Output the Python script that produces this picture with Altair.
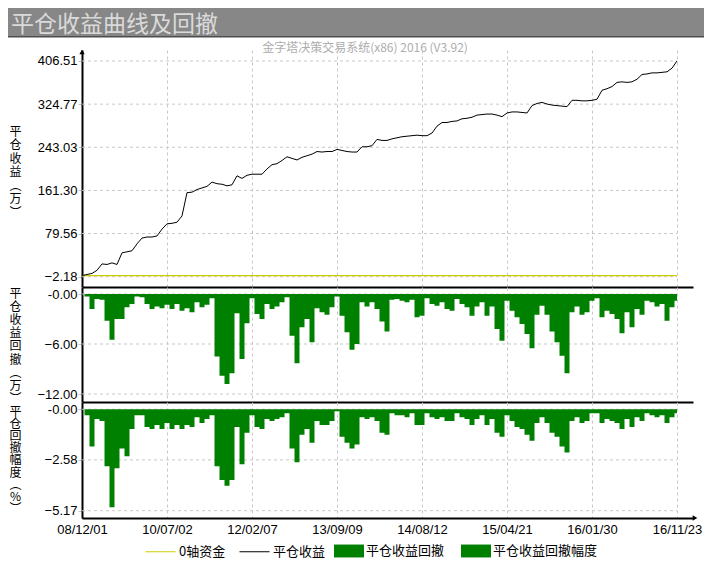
import altair as alt
import pandas as pd

TITLE = "平仓收益曲线及回撤"
SUBTITLE = "金字塔决策交易系统(x86) 2016 (V3.92)"
X_LABELS = ["08/12/01", "10/07/02", "12/02/07", "13/09/09",
            "14/08/12", "15/04/21", "16/01/30", "16/11/23"]
LABEL_STEP = 17  # trade-index distance between date labels

EQUITY = [0, 2, 4, 10, 22, 21, 24, 21, 43, 45,
          47, 60, 71, 73, 73, 75, 88, 98, 99, 101,
          113, 157, 158, 163, 166, 169, 177, 174, 173, 170,
          172, 189, 184, 190, 192, 192, 192, 202, 210, 212,
          218, 225, 222, 219, 224, 227, 230, 235, 234, 235,
          235, 239, 237, 235, 234, 234, 244, 244, 246, 258,
          256, 256, 259, 261, 263, 264, 265, 266, 265, 265,
          270, 283, 290, 290, 292, 293, 297, 298, 300, 304,
          305, 306, 306, 304, 301, 308, 310, 310, 309, 308,
          322, 326, 328, 325, 323, 322, 321, 320, 332, 332,
          331, 331, 332, 334, 351, 354, 358, 366, 367, 366,
          367, 372, 381, 382, 384, 384, 385, 386, 393, 406.51]

DRAWDOWN = [0, -0.3, -1.8, -0.6, -0.7, -3.2, -5.5, -3.0, -3.0, -1.6,
            -1.2, -0.3, -0.4, -1.2, -1.8, -1.5, -1.7, -1.3, -1.8, -1.2,
            -2.0, -1.7, -2.2, -1.0, -1.6, -1.3, -0.5, -7.5, -9.8, -10.8,
            -9.5, -2.3, -7.8, -3.5, -0.5, -2.4, -3.0, -1.2, -1.8, -1.5,
            -1.0, -0.4, -5.0, -8.3, -4.0, -3.0, -5.8, -1.7, -2.2, -2.5,
            -1.6, -0.3, -2.6, -4.6, -6.7, -6.0, -1.0, -1.5, -1.0, -1.8,
            -3.3, -4.5, -0.7, -0.6, -0.8, -1.0, -0.7, -2.8, -2.6, -0.5,
            -1.2, -1.4, -1.0, -1.8, -2.0, -0.6, -1.2, -1.6, -2.6, -1.5,
            -1.0, -2.6, -1.5, -4.2, -5.6, -0.8, -2.0, -2.8, -3.6, -4.8,
            -6.5, -2.5, -1.4, -2.5, -4.5, -5.8, -7.4, -9.5, -2.2, -1.5,
            -2.5, -2.2, -0.8, -0.5, -2.8, -2.0, -2.4, -3.0, -4.7, -2.2,
            -4.0, -1.8, -2.5, -0.8, -1.0, -1.5, -1.2, -3.2, -1.6, -0.8]

DRAWDOWN_PCT = [0, -0.3, -1.9, -0.5, -0.6, -2.9, -5.0, -3.0, -2.0, -2.4,
                -1.0, -0.3, -0.3, -0.9, -1.0, -0.8, -1.0, -0.7, -1.0, -0.8,
                -1.0, -0.8, -0.9, -0.4, -0.7, -0.5, -0.3, -2.9, -3.6, -3.9,
                -3.6, -0.9, -2.8, -1.2, -0.3, -0.9, -1.0, -0.5, -0.6, -0.5,
                -0.4, -0.2, -2.0, -2.7, -1.3, -1.0, -1.7, -0.6, -0.8, -0.8,
                -0.6, -0.1, -1.4, -1.7, -2.0, -1.8, -0.4, -0.5, -0.4, -0.6,
                -1.2, -1.3, -0.2, -0.3, -0.3, -0.4, -0.2, -0.8, -0.8, -0.2,
                -0.4, -0.5, -0.4, -0.6, -0.6, -0.2, -0.4, -0.5, -0.8, -0.5,
                -0.3, -0.8, -0.5, -1.2, -1.4, -0.3, -0.6, -0.9, -1.0, -1.3,
                -1.6, -0.7, -0.4, -0.7, -1.2, -1.4, -1.9, -2.2, -0.6, -0.4,
                -0.7, -0.6, -0.2, -0.2, -0.7, -0.5, -0.6, -0.7, -1.0, -0.5,
                -0.9, -0.4, -0.6, -0.2, -0.3, -0.4, -0.3, -0.7, -0.4, -0.2]

EQ_TICKS = [406.51, 324.77, 243.03, 161.30, 79.56, -2.18]
DD_TICKS = [0.0, -6.0, -12.0]
PCT_TICKS = [0.0, -2.58, -5.17]

LINE_SERIES = ["0轴资金", "平仓收益"]
FILL_SERIES = ["平仓收益回撤", "平仓收益回撤幅度"]

TITLE_EQ = ["平", "仓", "收", "益", "︵", "万", "︶"]
TITLE_DD = ["平", "仓", "收", "益", "回", "撤", "︵", "万", "︶"]
TITLE_PCT = ["平", "仓", "回", "撤", "幅", "度", "︵", "%", "︶"]

# ---------------- styling ----------------
CJK = "Noto Sans CJK SC"
NUM = "Liberation Sans"
GRID = "#c8c8c8"
GREEN = "#008000"
YELLOW = "#cccc00"
W = 611
N = len(EQUITY)
X_MAX = W / 5.0

xs = alt.Scale(domain=[0, X_MAX], nice=False, zero=False)
x_vals = [k * LABEL_STEP for k in range(len(X_LABELS))]
label_expr = "[" + ",".join("'%s'" % s for s in X_LABELS) + "][round(datum.value/%d)]" % LABEL_STEP


def x_enc(show):
    return alt.X("i:Q", scale=xs, axis=alt.Axis(
        values=x_vals, labels=show, labelExpr=label_expr, ticks=False,
        grid=True, gridColor=GRID, gridDash=[3, 3], gridWidth=1,
        domainColor="black", domainWidth=2, title=None, labelFlush=False,
        labelFont=NUM, labelFontSize=13, labelColor="black", labelPadding=5,
        labelOverlap=False))


def y_axis(values, title, title_y, line_h, lexpr=None):
    kw = dict(values=values, format=".2f", grid=False,
              domainColor="black", domainWidth=2,
              tickColor=GRID, tickSize=4, tickWidth=1,
              labelFont=NUM, labelFontSize=13, labelColor="black", labelPadding=1,
              labelOverlap=False, labelFlush=False,
              title=title, titleAngle=0, titleAlign="center", titleBaseline="top",
              titleX=-67, titleY=title_y, titleFont=CJK, titleFontSize=12,
              titleFontWeight="normal", titleColor="black", titleLineHeight=line_h)
    if lexpr:
        kw["labelExpr"] = lexpr
    return alt.Axis(**kw)


zero_lbl = "datum.value == 0 ? '-0.00' : format(datum.value, '.2f')"

stroke_scale = alt.Scale(domain=LINE_SERIES, range=[YELLOW, "#000000"])
fill_scale = alt.Scale(domain=FILL_SERIES, range=[GREEN, GREEN])

stroke_legend = alt.Legend(title=None, orient="none", legendX=63, legendY=528,
                           direction="horizontal", symbolType="stroke", symbolSize=900,
                           symbolStrokeWidth=1, labelFont=CJK, labelFontSize=13,
                           labelColor="black", columnPadding=11, labelOffset=3)
fill_legend = alt.Legend(title=None, orient="none", legendX=252, legendY=528,
                         direction="horizontal", symbolType="M-1,-0.43H1V0.43H-1Z",
                         symbolSize=900, symbolStrokeWidth=0, labelFont=CJK,
                         labelFontSize=13, labelColor="black", columnPadding=16,
                         labelOffset=2)

idx = list(range(N))
eq_df = pd.DataFrame({"i": idx, "v": EQUITY, "s": LINE_SERIES[1]})
zero_df = pd.DataFrame({"v": [0], "s": [LINE_SERIES[0]]})
dd_df = pd.DataFrame({"i": idx, "v": DRAWDOWN, "s": FILL_SERIES[0]})
pct_df = pd.DataFrame({"i": idx, "v": DRAWDOWN_PCT, "s": FILL_SERIES[1]})
hdr_df = pd.DataFrame({"title": [TITLE], "sub": [SUBTITLE]})
one = pd.DataFrame({"k": [0]})


def grid_rules(ticks, yscale):
    return alt.Chart(pd.DataFrame({"g": ticks})).mark_rule(
        color=GRID, strokeDash=[3, 3], strokeWidth=1).encode(
        y=alt.Y("g:Q", scale=yscale), x=alt.datum(0), x2=alt.datum(N - 1))


# ---------------- header ----------------
header = alt.layer(
    alt.Chart(hdr_df).mark_rect(color="#878787").encode(
        x=alt.value(-74), x2=alt.value(622), y=alt.value(0), y2=alt.value(28)),
    alt.Chart(hdr_df).mark_rect(color="#4e4e4e").encode(
        x=alt.value(-74), x2=alt.value(622), y=alt.value(28), y2=alt.value(29.5)),
    alt.Chart(hdr_df).mark_text(align="left", baseline="middle", font=CJK,
                                fontSize=23, color="#dadada").encode(
        x=alt.value(-71), y=alt.value(17), text="title:N"),
    alt.Chart(hdr_df).mark_text(align="center", baseline="middle", font=CJK,
                                fontSize=12, color="#adadad").encode(
        x=alt.value(283), y=alt.value(40), text="sub:N"),
).properties(width=W, height=42)

# ---------------- equity panel ----------------
ys_eq = alt.Scale(domain=[-21.7, 427.35], nice=False, zero=False)
top = alt.layer(
    grid_rules(EQ_TICKS, ys_eq),
    alt.Chart(zero_df).mark_rule(strokeWidth=1.2).encode(
        y=alt.Y("v:Q", scale=ys_eq, axis=y_axis(EQ_TICKS, TITLE_EQ, 76, 13.5)),
        x=alt.datum(0), x2=alt.datum(N - 1),
        stroke=alt.Stroke("s:N", scale=stroke_scale, legend=stroke_legend)),
    alt.Chart(eq_df).mark_line(strokeWidth=1).encode(
        x=x_enc(False),
        y=alt.Y("v:Q", scale=ys_eq),
        stroke=alt.Stroke("s:N", scale=stroke_scale, legend=stroke_legend)),
    alt.Chart(one).mark_point(shape="triangle-up", filled=True, size=28,
                              color="black", opacity=1).encode(
        x=alt.value(0), y=alt.value(2)),
).properties(width=W, height=237)

# ---------------- drawdown panel ----------------
ys_dd = alt.Scale(domain=[-12.96, 0.84], nice=False, zero=False)
mid = alt.layer(
    grid_rules(DD_TICKS, ys_dd),
    alt.Chart(dd_df).mark_area(interpolate="step", opacity=1).encode(
        x=x_enc(False),
        y=alt.Y("v:Q", scale=ys_dd,
                axis=y_axis(DD_TICKS, TITLE_DD, 1, 13.2, zero_lbl)),
        y2=alt.datum(0),
        fill=alt.Fill("s:N", scale=fill_scale, legend=fill_legend)),
).properties(width=W, height=115)

# ---------------- drawdown % panel ----------------
ys_pct = alt.Scale(domain=[-5.542, 0.372], nice=False, zero=False)
bot = alt.layer(
    grid_rules(PCT_TICKS, ys_pct),
    alt.Chart(pct_df).mark_area(interpolate="step", opacity=1).encode(
        x=x_enc(True),
        y=alt.Y("v:Q", scale=ys_pct,
                axis=y_axis(PCT_TICKS, TITLE_PCT, 4, 12.2, zero_lbl)),
        y2=alt.datum(0),
        fill=alt.Fill("s:N", scale=fill_scale, legend=fill_legend)),
    alt.Chart(one).mark_point(shape="triangle-right", filled=True, size=28,
                              color="black", opacity=1).encode(
        x=alt.value(W + 2), y=alt.value(116)),
).properties(width=W, height=116)

chart = alt.vconcat(header, top, mid, bot, spacing=0, bounds="flush").resolve_scale(
    fill="shared", stroke="shared").resolve_legend(fill="shared", stroke="shared").properties(
    padding=0, background="white").configure_view(stroke=None)

chart.save("out.html", embed_options={"renderer": "svg", "actions": False})
